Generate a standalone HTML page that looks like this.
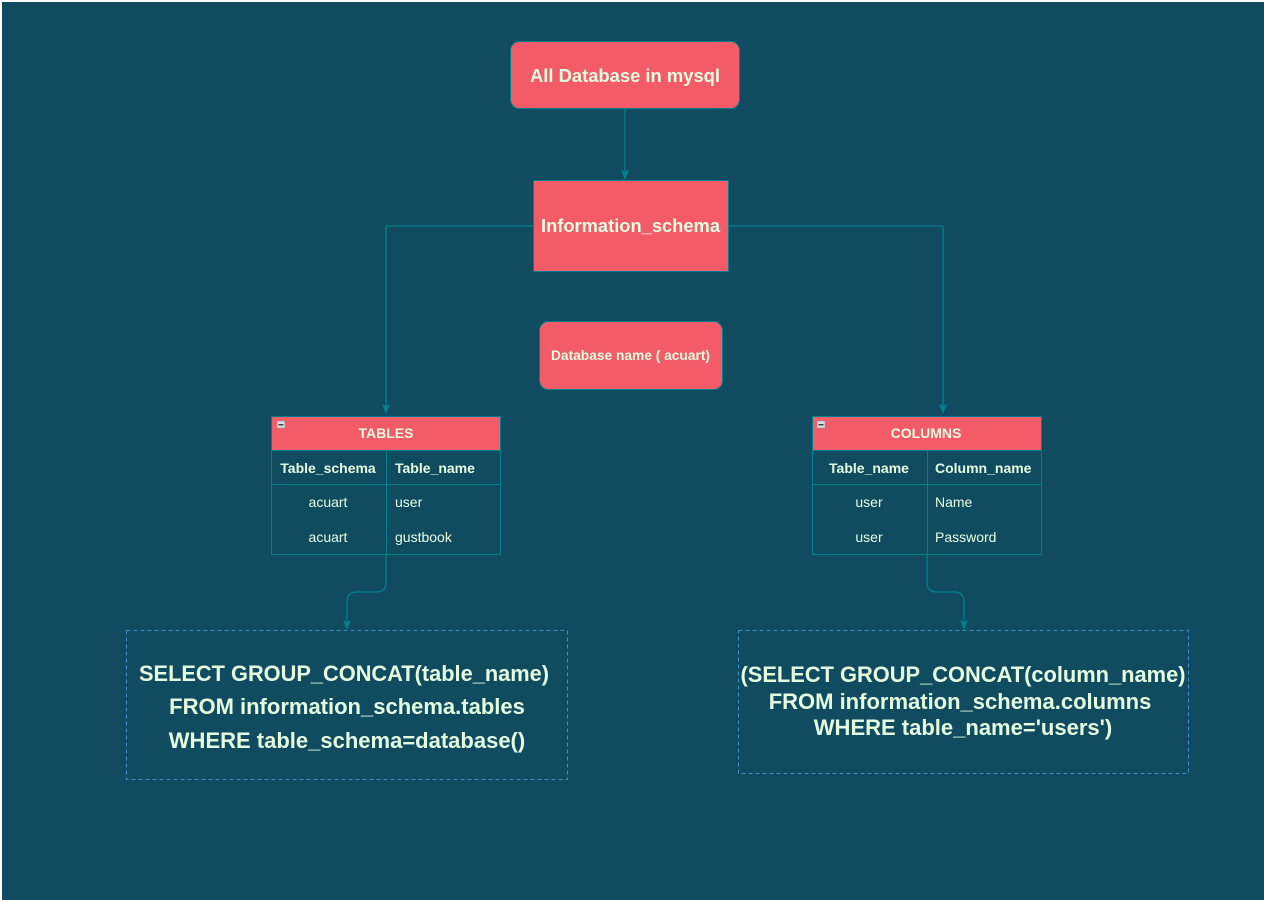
<!DOCTYPE html>
<html><head><style>
html,body{margin:0;padding:0;background:#fff;}
svg{display:block;}
text{font-family:"Liberation Sans",sans-serif;fill:#E4FDE1;}
</style></head><body>
<svg width="1264" height="900" viewBox="0 0 1264 900" xmlns="http://www.w3.org/2000/svg">
<rect x="2" y="2" width="1262" height="898" fill="#114B5F"/>
<g fill="none" stroke="#028090" stroke-width="1.3">
<path d="M625,109 V172"/>
<path d="M533,226 H386 V407"/>
<path d="M728,226 H943 V407"/>
<path d="M386,555 V582 Q386,592 376,592 H357 Q347,592 347,602 V622"/>
<path d="M927,555 V582 Q927,592 937,592 H954 Q964,592 964,602 V622"/>
</g>
<g fill="#028090">
<path d="M621,170 L625,180 L629,170 L625,172Z"/>
<path d="M382,404 L386,414 L390,404 L386,406Z"/>
<path d="M939,404 L943,414 L947,404 L943,406Z"/>
<path d="M343,620 L347,630 L351,620 L347,622Z"/>
<path d="M960,620 L964,630 L968,620 L964,622Z"/>
</g>
<rect x="510.5" y="41.5" width="229" height="67" rx="9" fill="#F45B69" stroke="#028090"/>
<text x="625" y="82" text-anchor="middle" font-size="18.5" font-weight="bold" textLength="190" lengthAdjust="spacingAndGlyphs">All Database in mysql</text>
<rect x="533.5" y="180.5" width="195" height="91" fill="#F45B69" stroke="#028090"/>
<text x="630.5" y="232" text-anchor="middle" font-size="18.5" font-weight="bold" textLength="179" lengthAdjust="spacingAndGlyphs">Information_schema</text>
<rect x="539.5" y="321.5" width="183" height="68" rx="9" fill="#F45B69" stroke="#028090"/>
<text x="630.5" y="360" text-anchor="middle" font-size="13.8" font-weight="bold" textLength="159" lengthAdjust="spacingAndGlyphs">Database name ( acuart)</text>
<g stroke="#028090" stroke-width="1">
<rect x="271.5" y="416.5" width="229" height="34" fill="#F45B69"/>
<rect x="271.5" y="450.5" width="229" height="104" fill="none"/>
<path d="M271.5,484.5 H500.5 M386.5,450.5 V554.5" fill="none"/>
<rect x="812.5" y="416.5" width="229" height="34" fill="#F45B69"/>
<rect x="812.5" y="450.5" width="229" height="104" fill="none"/>
<path d="M812.5,484.5 H1041.5 M927.5,450.5 V554.5" fill="none"/>
</g>
<rect x="277" y="421" width="8" height="7" fill="#ddd" stroke="#888" stroke-width="0.5"/><rect x="278.5" y="424" width="5" height="1.5" fill="#444"/>
<rect x="817" y="421" width="8" height="7" fill="#ddd" stroke="#888" stroke-width="0.5"/><rect x="818.5" y="424" width="5" height="1.5" fill="#444"/>
<g font-size="14">
<text x="386" y="438" text-anchor="middle" font-weight="bold">TABLES</text>
<text x="328" y="473" text-anchor="middle" font-weight="bold">Table_schema</text>
<text x="395" y="473" font-weight="bold">Table_name</text>
<text x="328" y="507" text-anchor="middle">acuart</text>
<text x="395" y="507">user</text>
<text x="328" y="542" text-anchor="middle">acuart</text>
<text x="395" y="542">gustbook</text>
<text x="926" y="438" text-anchor="middle" font-weight="bold">COLUMNS</text>
<text x="869" y="473" text-anchor="middle" font-weight="bold">Table_name</text>
<text x="935" y="473" font-weight="bold">Column_name</text>
<text x="869" y="507" text-anchor="middle">user</text>
<text x="935" y="507">Name</text>
<text x="869" y="542" text-anchor="middle">user</text>
<text x="935" y="542">Password</text>
</g>
<g fill="none" stroke="#3d8ec9" stroke-width="1" stroke-dasharray="4 3">
<rect x="126.5" y="630.5" width="441" height="149"/>
<rect x="738.5" y="630.5" width="450" height="143"/>
</g>
<g font-size="22" font-weight="bold" text-anchor="middle">
<text x="344" y="681" textLength="410" lengthAdjust="spacingAndGlyphs">SELECT GROUP_CONCAT(table_name)</text>
<text x="347" y="714">FROM information_schema.tables</text>
<text x="347" y="748">WHERE table_schema=database()</text>
<text x="963" y="682" textLength="445" lengthAdjust="spacingAndGlyphs">(SELECT GROUP_CONCAT(column_name)</text>
<text x="960" y="709">FROM information_schema.columns</text>
<text x="963" y="735">WHERE table_name='users')</text>
</g>
</svg>
</body></html>
